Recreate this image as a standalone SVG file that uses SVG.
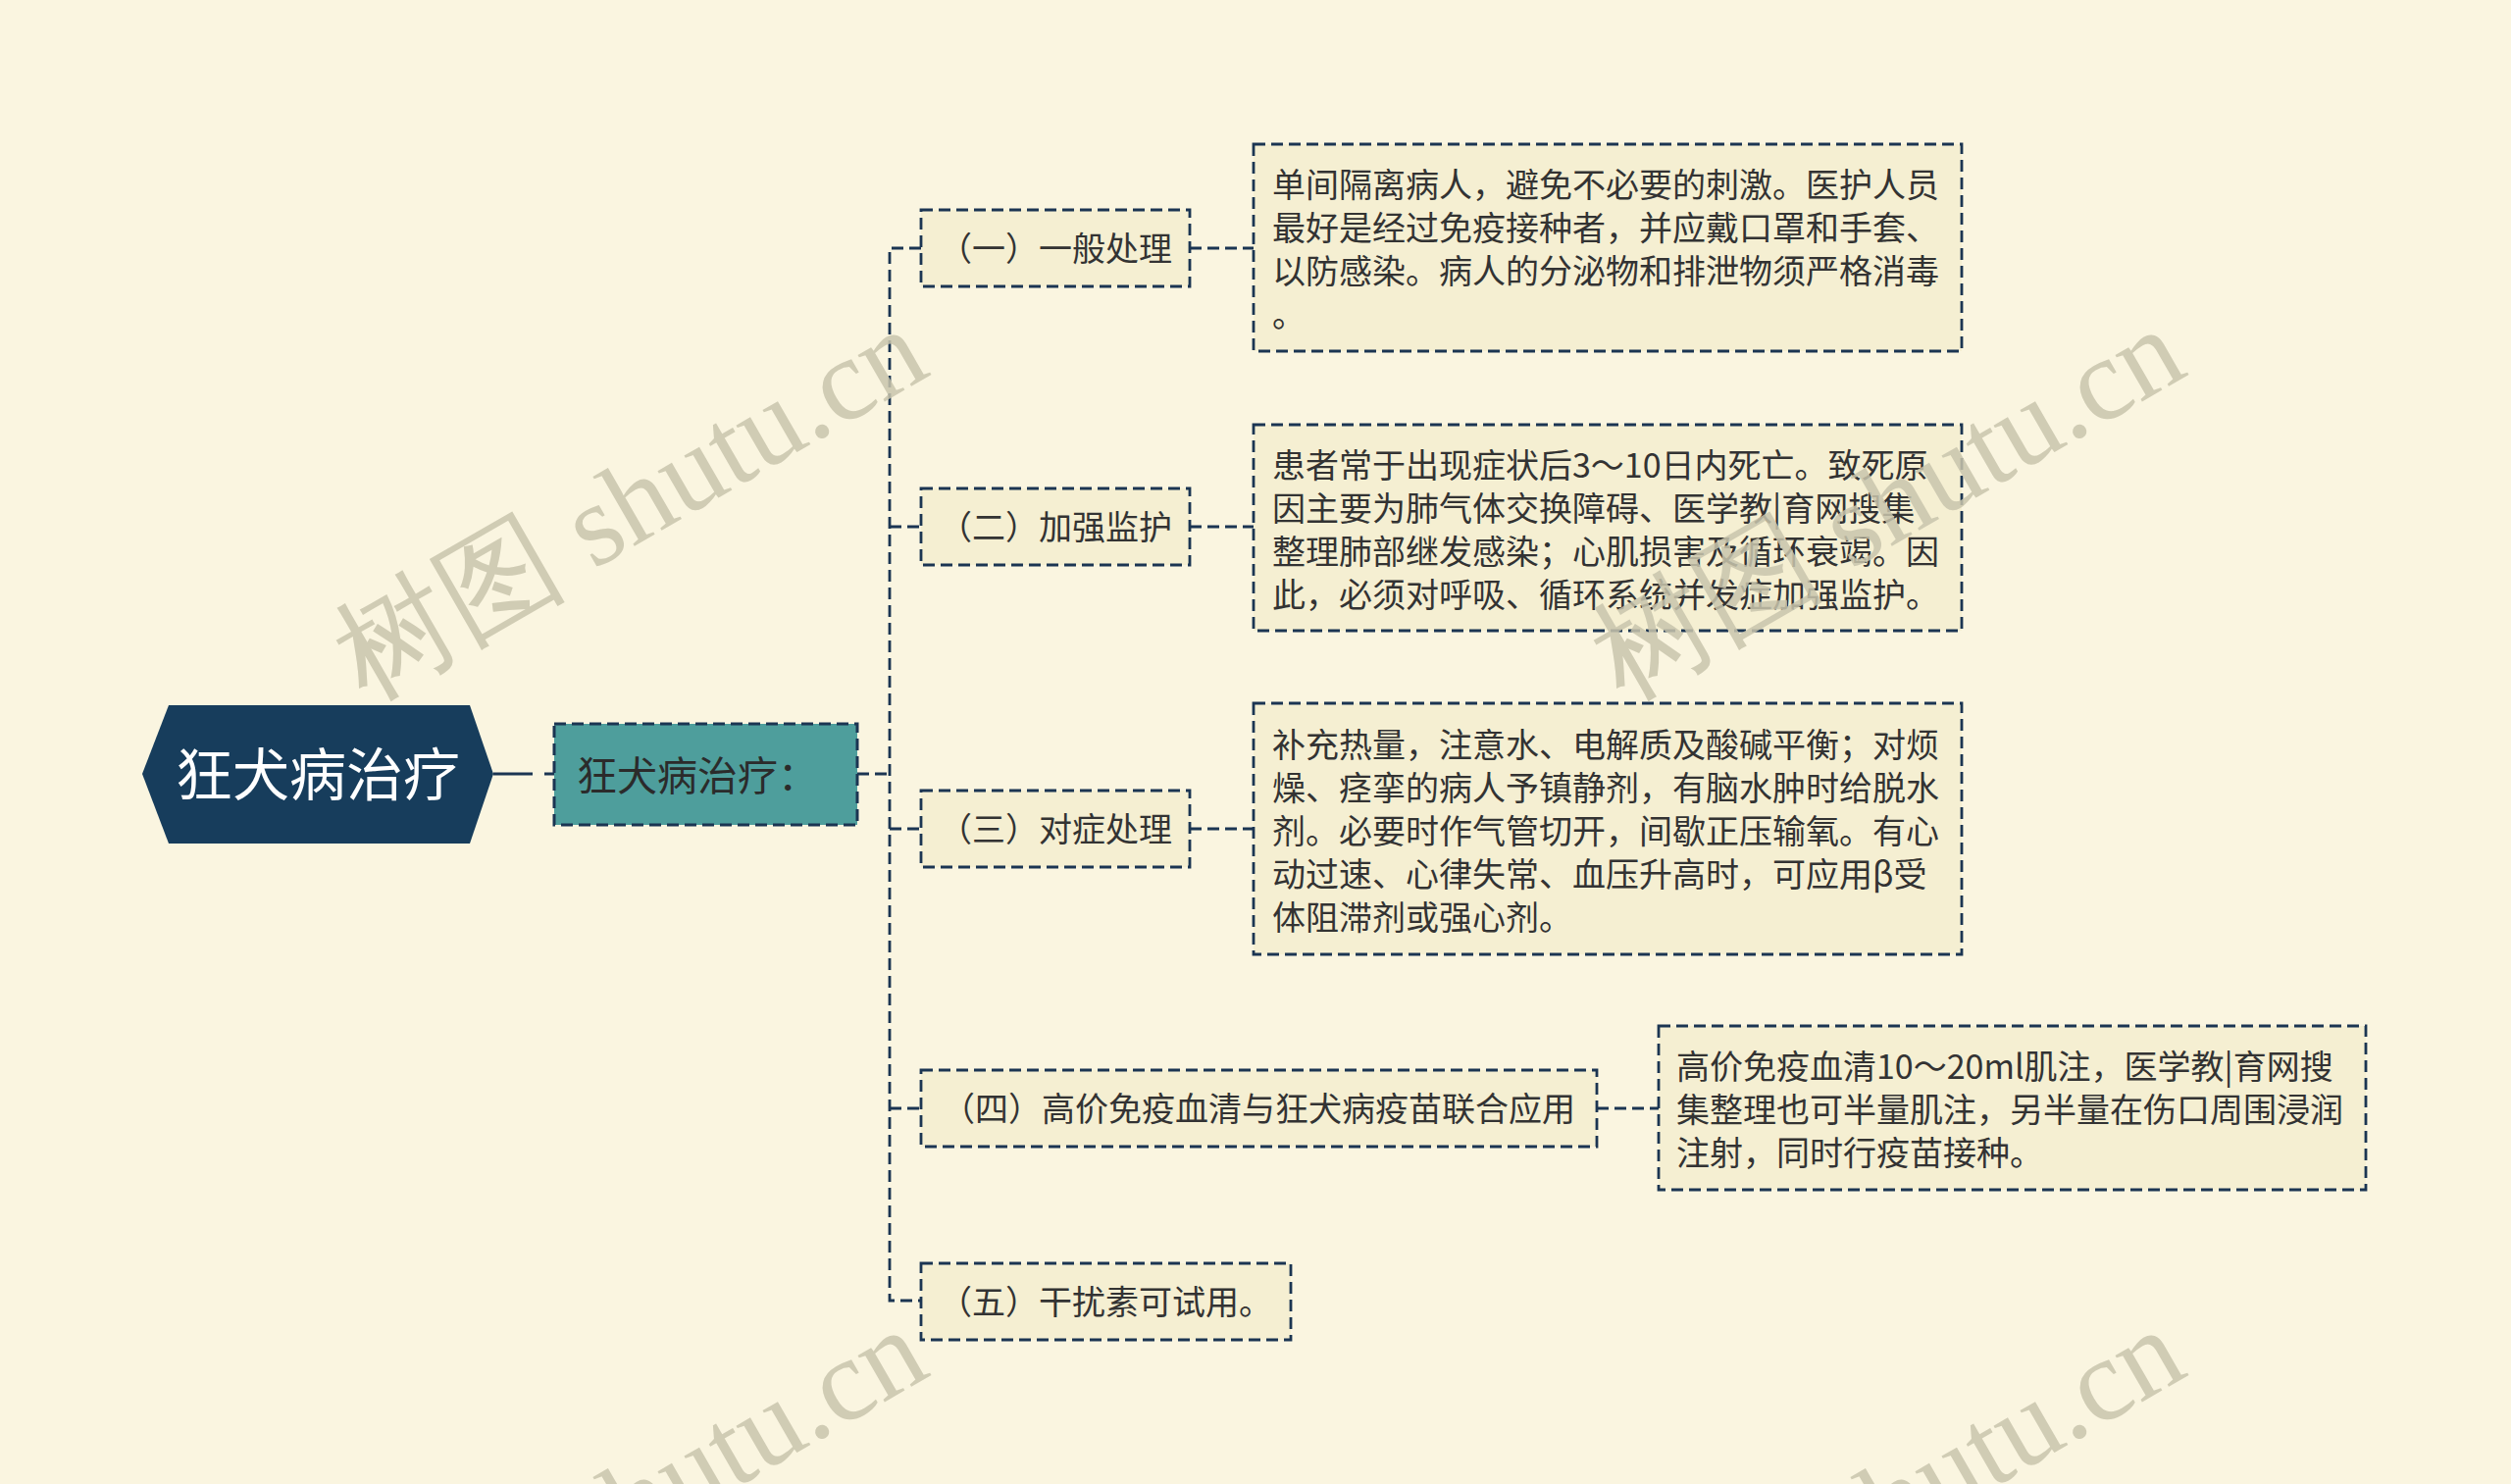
<svg xmlns="http://www.w3.org/2000/svg" width="2560" height="1513" viewBox="0 0 2560 1513">
<style>
.bg{fill:#faf5e0}
.box{fill:#f5efd2;stroke:#1b3552;stroke-width:2.8;stroke-dasharray:12 6}
.t{font-family:"Noto Sans CJK SC","Noto Sans",sans-serif;font-size:34px;fill:#333333}
.c{text-anchor:middle}
.ln{fill:none;stroke:#1b3552;stroke-width:2.8;stroke-dasharray:12 6}
.wm{font-family:"Liberation Serif","DejaVu Serif",serif;font-size:119px;fill:#c9c5ad;opacity:0.85;text-anchor:middle}
</style>
<rect class="bg" x="0" y="0" width="2560" height="1513"/>
<g id="connectors">
<path d="M503 789 H565" fill="none" stroke="#1b3552" stroke-width="3" stroke-dasharray="40 12"/>
<path class="ln" d="M874 789 H907"/>
<path class="ln" d="M939 253 H907 V1326 H939"/>
<path class="ln" d="M907 537 H939"/>
<path class="ln" d="M907 845 H939"/>
<path class="ln" d="M907 1130 H939"/>
<path class="ln" d="M1213 253 H1278"/>
<path class="ln" d="M1213 537 H1278"/>
<path class="ln" d="M1213 845 H1278"/>
<path class="ln" d="M1628 1130 H1691"/>
</g>
<g id="root">
<polygon points="145,789 172,719 479,719 503,789 479,860 172,860" fill="#173d5c"/>
<text x="324" y="811" style="font-family:'Noto Sans CJK SC','Noto Sans',sans-serif;font-size:58px;fill:#ffffff;text-anchor:middle">狂犬病治疗</text>
</g>
<g id="n0">
<rect x="565" y="738" width="309" height="103" fill="#4e9e9c" stroke="#1b3552" stroke-width="3" stroke-dasharray="12 6"/>
<text x="588" y="806" style="font-family:'Noto Sans CJK SC','Noto Sans',sans-serif;font-size:41px;fill:#2b2b2b">狂犬病治疗：</text>
</g>
<g id="c1">
<rect class="box" x="939" y="214" width="274" height="78"/>
<text class="t c" x="1076" y="266">（一）一般处理</text>
</g>
<g id="c2">
<rect class="box" x="939" y="498" width="274" height="78"/>
<text class="t c" x="1076" y="550">（二）加强监护</text>
</g>
<g id="c3">
<rect class="box" x="939" y="806" width="274" height="78"/>
<text class="t c" x="1076" y="858">（三）对症处理</text>
</g>
<g id="c4">
<rect class="box" x="939" y="1091" width="689" height="78"/>
<text class="t c" x="1283" y="1143">（四）高价免疫血清与狂犬病疫苗联合应用</text>
</g>
<g id="c5">
<rect class="box" x="939" y="1288" width="377" height="78"/>
<text class="t c" x="1127" y="1340">（五）干扰素可试用。</text>
</g>
<g id="d1">
<rect class="box" x="1278" y="147" width="722" height="211"/>
<text class="t" x="1297" y="201">单间隔离病人，避免不必要的刺激。医护人员</text>
<text class="t" x="1297" y="245">最好是经过免疫接种者，并应戴口罩和手套、</text>
<text class="t" x="1297" y="289">以防感染。病人的分泌物和排泄物须严格消毒</text>
<text class="t" x="1297" y="333">。</text>
</g>
<g id="d2">
<rect class="box" x="1278" y="433" width="722" height="210"/>
<text class="t" x="1297" y="487">患者常于出现症状后3～10日内死亡。致死原</text>
<text class="t" x="1297" y="531">因主要为肺气体交换障碍、医学教|育网搜集</text>
<text class="t" x="1297" y="575">整理肺部继发感染；心肌损害及循环衰竭。因</text>
<text class="t" x="1297" y="619">此，必须对呼吸、循环系统并发症加强监护。</text>
</g>
<g id="d3">
<rect class="box" x="1278" y="717" width="722" height="256"/>
<text class="t" x="1297" y="772">补充热量，注意水、电解质及酸碱平衡；对烦</text>
<text class="t" x="1297" y="816">燥、痉挛的病人予镇静剂，有脑水肿时给脱水</text>
<text class="t" x="1297" y="860">剂。必要时作气管切开，间歇正压输氧。有心</text>
<text class="t" x="1297" y="904">动过速、心律失常、血压升高时，可应用β受</text>
<text class="t" x="1297" y="948">体阻滞剂或强心剂。</text>
</g>
<g id="d4">
<rect class="box" x="1691" y="1046" width="721" height="167"/>
<text class="t" x="1709" y="1100">高价免疫血清10～20ml肌注，医学教|育网搜</text>
<text class="t" x="1709" y="1144">集整理也可半量肌注，另半量在伤口周围浸润</text>
<text class="t" x="1709" y="1188">注射，同时行疫苗接种。</text>
</g>
<g id="watermarks">
<text class="wm" transform="translate(662 548) rotate(-30)">树图 shutu.cn</text>
<text class="wm" transform="translate(1944 548) rotate(-30)">树图 shutu.cn</text>
<text class="wm" transform="translate(662 1568) rotate(-30)">树图 shutu.cn</text>
<text class="wm" transform="translate(1944 1568) rotate(-30)">树图 shutu.cn</text>
</g>
</svg>
